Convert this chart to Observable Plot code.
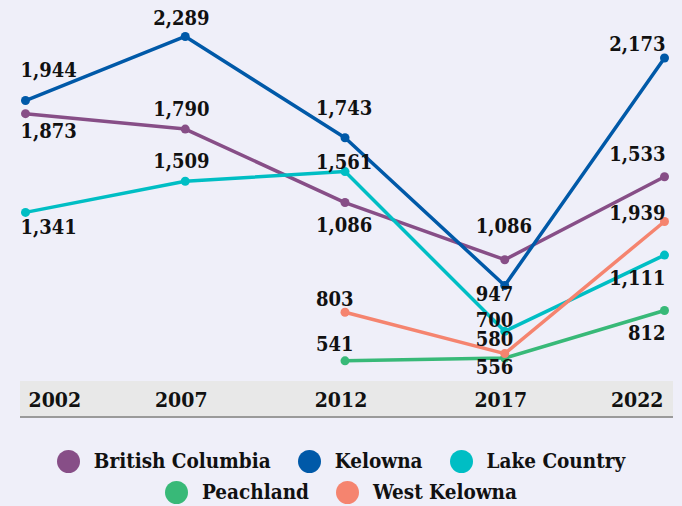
<!DOCTYPE html>
<html>
<head>
<meta charset="utf-8">
<script src="https://cdn.jsdelivr.net/npm/d3@7"></script>
<script src="https://cdn.jsdelivr.net/npm/@observablehq/plot@0.6"></script>
<style>
  html, body { margin: 0; padding: 0; background: #efeff9; }
  body { width: 682px; height: 506px; overflow: hidden; font-family: "DejaVu Serif Condensed", "DejaVu Serif", serif; }
  #wrap { position: relative; width: 682px; height: 418px; }
  #band { position: absolute; left: 20px; top: 381px; width: 653px; height: 35px; background: #e8e8e8; border-bottom: 2.5px solid #9a9a9a; }
  #chart { position: absolute; left: 0; top: 0; }
  #legend { display: flex; flex-wrap: wrap; justify-content: center; width: 660px; margin: 32px auto 0; column-gap: 27px; row-gap: 8px; }
  .item { display: flex; align-items: center; font-size: 20.5px; font-weight: bold; color: #111; line-height: 23px; }
  .dot { width: 23px; height: 23px; border-radius: 50%; margin-right: 14px; }
</style>
</head>
<body>
<div id="wrap"><div id="band"></div><div id="chart"></div></div>
<div id="legend"></div>
<script>
// ---- data ----
const years = [2002, 2007, 2012, 2017, 2022];
const seriesNames = ["British Columbia", "Kelowna", "Lake Country", "Peachland", "West Kelowna"];
const colors = ["#874e87", "#0059a8", "#00bec4", "#38b978", "#f5846f"];
// plotted values (read from point positions)
const britishColumbia = [1873, 1790, 1394, 1086, 1533];
const kelowna = [1944, 2289, 1743, 947, 2173];
const lakeCountry = [1341, 1509, 1561, 700, 1111];
const peachland = [null, null, 541, 556, 812];
const westKelowna = [null, null, 803, 580, 1292];
// label texts as printed in the chart
const britishColumbiaLabels = ["1,873", "1,790", "1,086", "1,086", "1,533"];
const kelownaLabels = ["1,944", "2,289", "1,743", "947", "2,173"];
const lakeCountryLabels = ["1,341", "1,509", "1,561", "700", "1,111"];
const peachlandLabels = [null, null, "541", "556", "812"];
const westKelownaLabels = [null, null, "803", "580", "1,939"];
const tickLabels = ["2002", "2007", "2012", "2017", "2022"];

// ---- layout (label offsets, not data) ----
const labelDy = {
  "British Columbia": [18, -19.5, 23, -33, -22.5],
  "Kelowna": [-29.5, -17.5, -29.7, 9.5, -13],
  "Lake Country": [15, -19.5, -8.5, -10.5, 23.5],
  "Peachland": [0, 0, -16.7, 9.5, 23],
  "West Kelowna": [0, 0, -13, -13.5, -7.5]
};
const colDx = [-5, -32, -29, -29, 1];
const colAnchor = ["start", "start", "start", "start", "end"];

const valueLists = [britishColumbia, kelowna, lakeCountry, peachland, westKelowna];
const labelLists = [britishColumbiaLabels, kelownaLabels, lakeCountryLabels, peachlandLabels, westKelownaLabels];

const rows = [];
seriesNames.forEach((s, si) => {
  years.forEach((yr, i) => {
    const v = valueLists[si][i];
    if (v != null) rows.push({series: s, year: yr, value: v, label: labelLists[si][i], col: i});
  });
});

const font = "DejaVu Serif Condensed, DejaVu Serif, serif";
const labelMarks = rows.map(d => Plot.text([d], {
  x: "year", y: "value", text: "label",
  dx: colDx[d.col], dy: labelDy[d.series][d.col],
  textAnchor: colAnchor[d.col], lineAnchor: "middle",
  fill: "#111", fontSize: 20, fontWeight: "bold", fontFamily: font
}));

const tickFmt = d => tickLabels[years.indexOf(d)];
const axisCommon = {tickSize: 0, fontSize: 21, fontWeight: "bold", fontFamily: font, fill: "#111", label: null, tickFormat: tickFmt, tickPadding: 0, dy: 11};

const chart = Plot.plot({
  width: 682,
  height: 418,
  marginLeft: 25,
  marginRight: 18,
  marginTop: 0,
  marginBottom: 37,
  style: {background: "transparent", overflow: "visible"},
  x: {domain: [2002, 2022], range: [25, 664]},
  y: {domain: [0, 2400], range: [460.7, 15.4], axis: null},
  color: {domain: seriesNames, range: colors},
  marks: [
    Plot.axisX({...axisCommon, ticks: [2002], textAnchor: "start", dx: 3}),
    Plot.axisX({...axisCommon, ticks: [2007, 2012, 2017], dx: -4}),
    Plot.axisX({...axisCommon, ticks: [2022], textAnchor: "end", dx: -1}),
    Plot.line(rows, {x: "year", y: "value", z: "series", stroke: "series", strokeWidth: 3.5, strokeLinejoin: "round", strokeLinecap: "round"}),
    Plot.dot(rows, {x: "year", y: "value", fill: "series", r: 4.5}),
    ...labelMarks
  ]
});
document.getElementById("chart").appendChild(chart);

const legend = document.getElementById("legend");
seriesNames.forEach((s, i) => {
  const it = document.createElement("div");
  it.className = "item";
  const dot = document.createElement("span");
  dot.className = "dot";
  dot.style.background = colors[i];
  it.appendChild(dot);
  it.appendChild(document.createTextNode(s));
  legend.appendChild(it);
});
</script>
</body>
</html>
